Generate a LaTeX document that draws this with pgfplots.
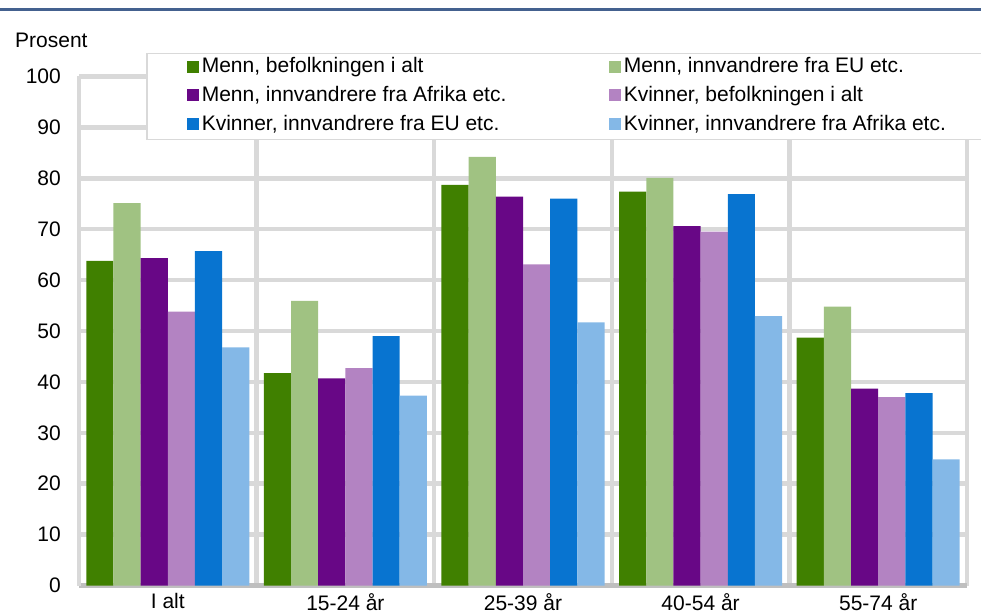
\documentclass[border=0pt]{standalone}
\usepackage{fontspec}
\setmainfont{Liberation Sans}
\usepackage{pgfplots}
\pgfplotsset{compat=1.18}

\definecolor{mbef}{HTML}{408000}
\definecolor{meu}{HTML}{A0C282}
\definecolor{maf}{HTML}{680786}
\definecolor{kbef}{HTML}{B383C2}
\definecolor{keu}{HTML}{0874D0}
\definecolor{kaf}{HTML}{84B8E7}
\definecolor{topblue}{HTML}{44618F}
\definecolor{gridgray}{HTML}{D9D9D9}
\definecolor{axgray}{HTML}{BFBFBF}

\begin{document}
\fontsize{21}{25}\selectfont
\begin{tikzpicture}
    \useasboundingbox (-79pt,-27.5pt) rectangle (902pt,585.5pt);
    \draw[topblue, line width=3pt] (-79pt,575.5pt) -- (902pt,575.5pt);
    \node[anchor=base west, inner sep=0pt] at (-64pt,538pt) {Prosent};
    \begin{axis}[
            at={(0pt,0pt)},
            anchor=south west,
            scale only axis,
            width=888pt,
            height=509pt,
            ybar=0pt,
            bar width=0.153,
            xmin=-0.5, xmax=4.5,
            ymin=0, ymax=100,
            xtick={0,1,2,3,4},
            xticklabels={I alt,15-24 år,25-39 år,40-54 år,55-74 år},
            minor xtick={-0.5,0.5,1.5,2.5,3.5,4.5},
            ytick={0,10,...,100},
            ymajorgrids,
            xminorgrids,
            major grid style={draw=gridgray, line width=4.5pt},
            minor grid style={draw=gridgray, line width=4.5pt},
            axis x line*=bottom,
            axis y line*=left,
            x axis line style={draw=axgray, line width=4.5pt, -},
            y axis line style={draw=gridgray, line width=4.5pt, -},
            major tick length=0pt,
            minor tick length=0pt,
            tick style={draw=none},
            /pgf/number format/assume math mode=true,
            ticklabel style={font=\fontsize{21}{25}\selectfont},
            yticklabel style={inner sep=0pt, xshift=-18pt},
            xticklabel style={inner sep=0pt, yshift=-7.5pt},
            legend columns=2,
            legend cell align=left,
            legend style={
                at={(rel axis cs:0.0755,1.0468)},
                anchor=north west,
                draw=gridgray,
                line width=1.5pt,
                fill=white,
                inner xsep=0pt,
                inner ysep=4.5pt,
                row sep=9.2pt,
                font=\fontsize{21}{25}\selectfont,
                nodes={inner sep=0pt, text height=15pt, text depth=4.5pt},
                /tikz/every even column/.append style={column sep=0pt},
            },
            legend image code/.code={
                \path[draw=none, fill=none] (-40pt,0pt) -- (15pt,0pt);
                \fill[#1, draw=none] (0pt,-5pt) rectangle (12pt,7pt);
            },
        ]
        \addplot[fill=mbef, draw=none] coordinates {(0,63.8) (1,41.7) (2,78.7) (3,77.4) (4,48.7)};
        \addlegendentry{\makebox[367pt][l]{Menn, befolkningen i alt}}
        \addplot[fill=meu, draw=none] coordinates {(0,75.1) (1,55.9) (2,84.2) (3,80.1) (4,54.8)};
        \addlegendentry{\makebox[367pt][l]{Menn, innvandrere fra EU etc.}}
        \addplot[fill=maf, draw=none] coordinates {(0,64.3) (1,40.7) (2,76.4) (3,70.6) (4,38.7)};
        \addlegendentry{\makebox[367pt][l]{Menn, innvandrere fra Afrika etc.}}
        \addplot[fill=kbef, draw=none] coordinates {(0,53.8) (1,42.7) (2,63.1) (3,69.5) (4,37.0)};
        \addlegendentry{\makebox[367pt][l]{Kvinner, befolkningen i alt}}
        \addplot[fill=keu, draw=none] coordinates {(0,65.7) (1,49.0) (2,76.0) (3,76.9) (4,37.8)};
        \addlegendentry{\makebox[367pt][l]{Kvinner, innvandrere fra EU etc.}}
        \addplot[fill=kaf, draw=none] coordinates {(0,46.8) (1,37.3) (2,51.7) (3,52.9) (4,24.8)};
        \addlegendentry{\makebox[367pt][l]{Kvinner, innvandrere fra Afrika etc.}}
    \end{axis}
\end{tikzpicture}
\end{document}
